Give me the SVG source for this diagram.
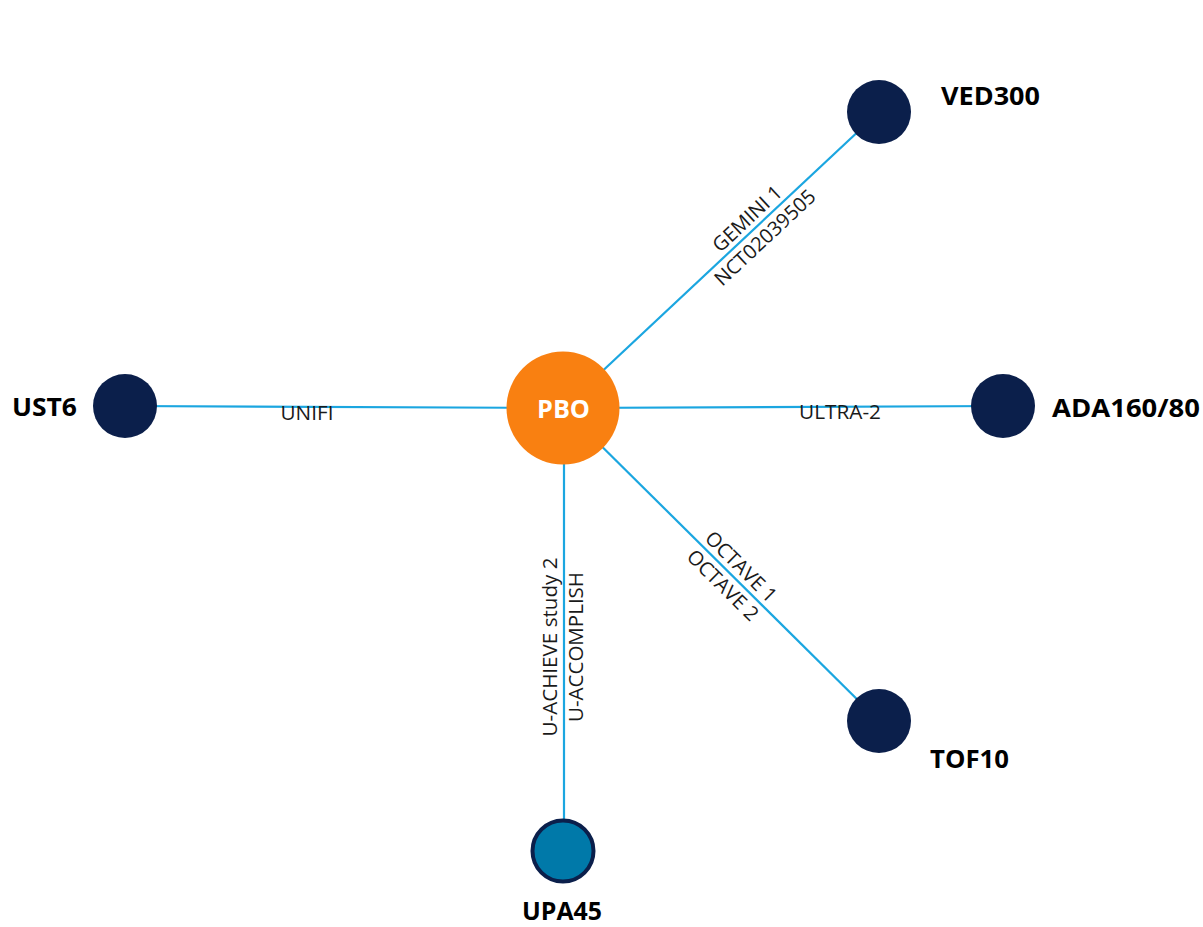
<svg xmlns="http://www.w3.org/2000/svg" width="1203" height="927" viewBox="0 0 1203 927">
  <style>
    .edge { stroke: #1BA6E0; stroke-width: 2.2; fill: none; }
    .elabel { font-family: "Open Sans", "Liberation Sans", sans-serif; font-size: 20px; fill: #1a1a1a; text-anchor: middle; }
    .nlabel { font-family: "Open Sans", "Liberation Sans", sans-serif; font-size: 25px; font-weight: bold; fill: #000000; }
    .dark { fill: #0B1F4B; }
  </style>
  <rect width="1203" height="927" fill="#ffffff"/>
  <g id="connectors">
    <line class="edge" x1="563" y1="408" x2="879" y2="112"/>
    <line class="edge" x1="125" y1="406" x2="563" y2="408"/>
    <line class="edge" x1="563" y1="408" x2="1003" y2="406"/>
    <line class="edge" x1="563" y1="408" x2="879" y2="721"/>
    <line class="edge" x1="564" y1="408" x2="564" y2="851"/>
    <g transform="translate(756,228) rotate(-43.1)">
      <text class="elabel" x="0" y="-6">GEMINI 1</text>
      <text class="elabel" x="0" y="20">NCT02039505</text>
    </g>
    <text class="elabel" x="307" y="420" textLength="53" lengthAdjust="spacingAndGlyphs">UNIFI</text>
    <text class="elabel" x="840" y="419" textLength="82" lengthAdjust="spacingAndGlyphs">ULTRA-2</text>
    <g transform="translate(732,576) rotate(44.7)">
      <text class="elabel" x="0" y="-6">OCTAVE 1</text>
      <text class="elabel" x="0" y="20">OCTAVE 2</text>
    </g>
    <g transform="translate(564,647) rotate(-90)">
      <text class="elabel" x="0" y="-7" textLength="179" lengthAdjust="spacingAndGlyphs">U-ACHIEVE study 2</text>
      <text class="elabel" x="0" y="19" textLength="150" lengthAdjust="spacingAndGlyphs">U-ACCOMPLISH</text>
    </g>
  </g>
  <g id="node-PBO">
    <circle cx="563" cy="408" r="56.5" fill="#F98011"/>
    <text class="nlabel" x="563.5" y="418" text-anchor="middle" style="fill:#ffffff" textLength="53" lengthAdjust="spacingAndGlyphs">PBO</text>
  </g>
  <g id="node-VED300">
    <circle class="dark" cx="879" cy="112" r="32"/>
    <text class="nlabel" x="941" y="105" textLength="99" lengthAdjust="spacingAndGlyphs">VED300</text>
  </g>
  <g id="node-UST6">
    <circle class="dark" cx="125" cy="406" r="32"/>
    <text class="nlabel" x="12" y="416" textLength="65" lengthAdjust="spacingAndGlyphs">UST6</text>
  </g>
  <g id="node-ADA160-80">
    <circle class="dark" cx="1003" cy="406" r="32"/>
    <text class="nlabel" x="1052" y="417" textLength="148" lengthAdjust="spacingAndGlyphs">ADA160/80</text>
  </g>
  <g id="node-TOF10">
    <circle class="dark" cx="879" cy="721" r="32"/>
    <text class="nlabel" x="930" y="768" textLength="79" lengthAdjust="spacingAndGlyphs">TOF10</text>
  </g>
  <g id="node-UPA45">
    <circle cx="563" cy="851" r="30.5" fill="#0079A9" stroke="#0B1F4B" stroke-width="4"/>
    <text class="nlabel" x="562" y="920" text-anchor="middle" textLength="80" lengthAdjust="spacingAndGlyphs">UPA45</text>
  </g>
</svg>
